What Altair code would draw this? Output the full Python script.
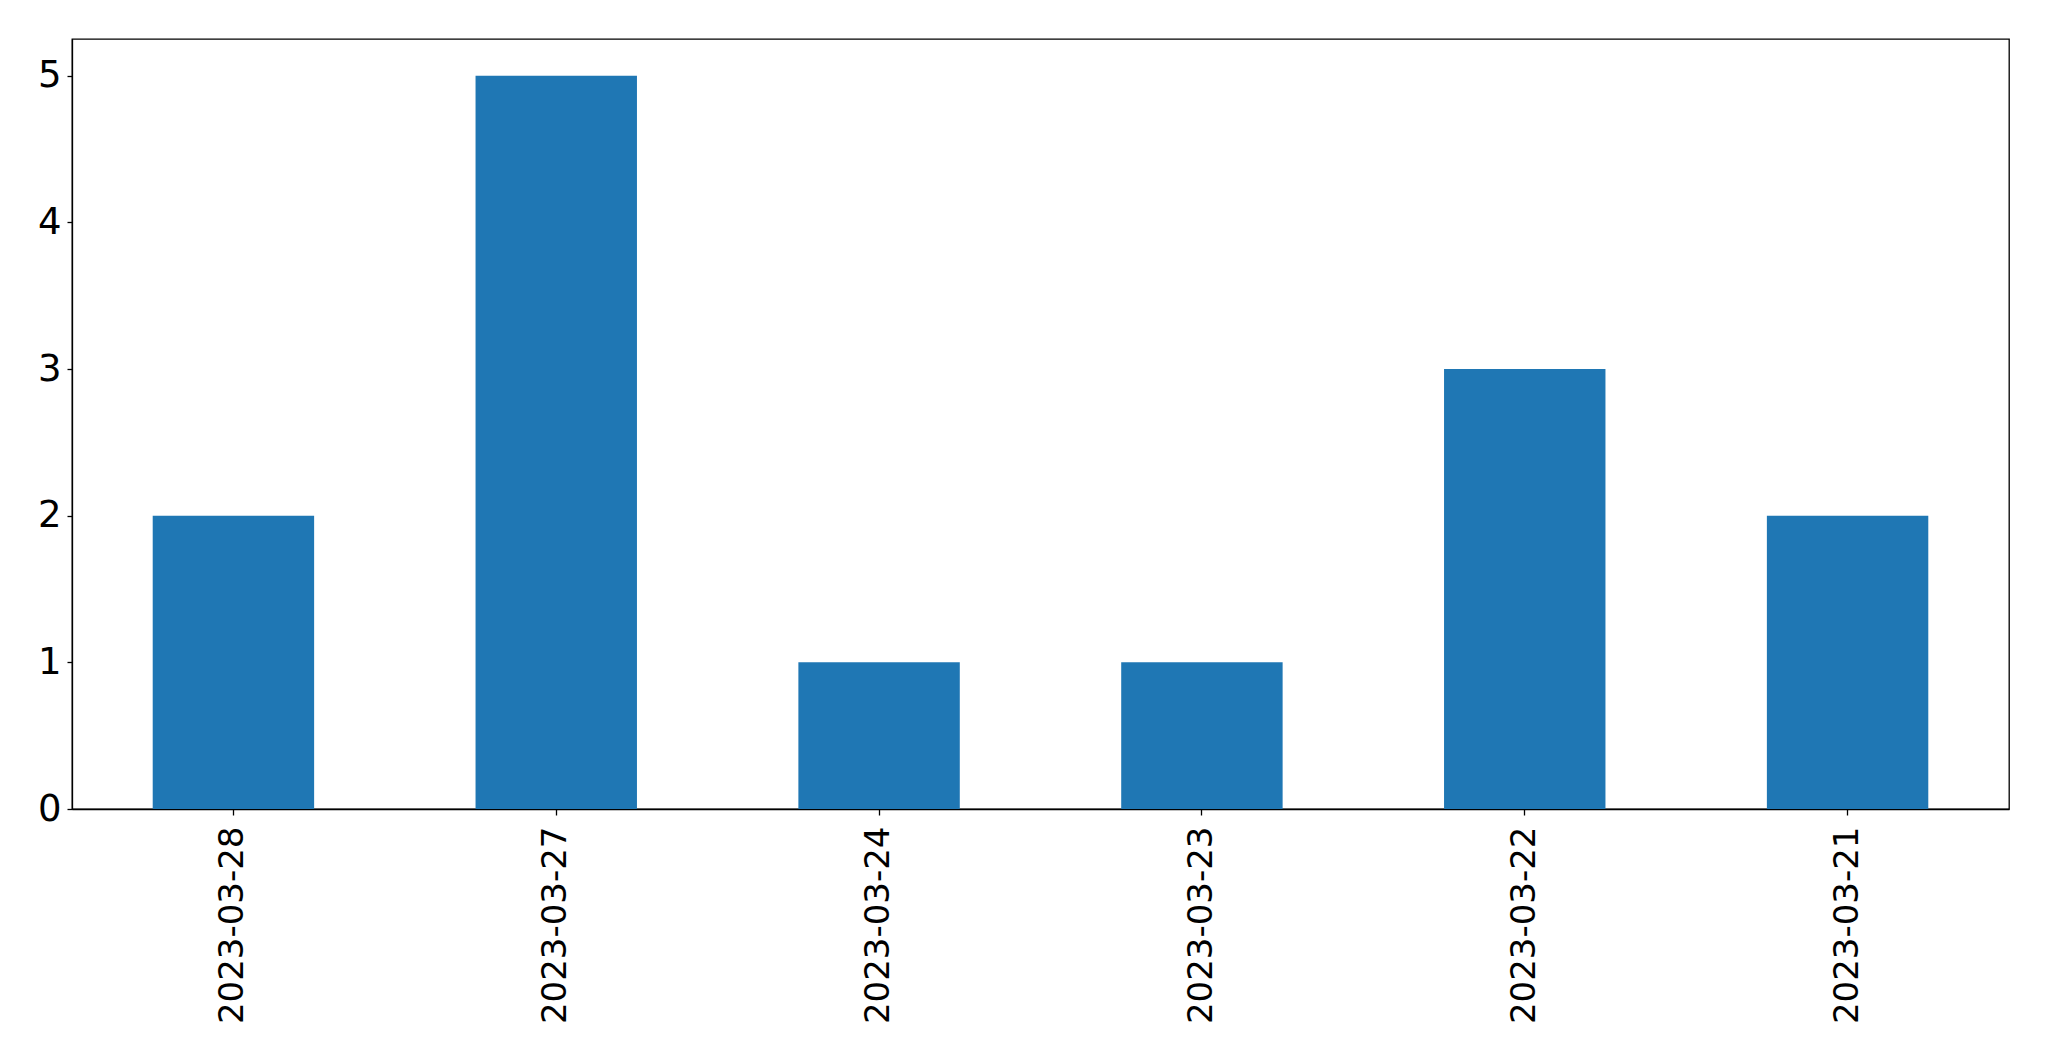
import altair as alt
import pandas as pd

dates = ["2023-03-28", "2023-03-27", "2023-03-24", "2023-03-23", "2023-03-22", "2023-03-21"]
counts = [2, 5, 1, 1, 3, 2]

df = pd.DataFrame({"date": dates, "count": counts})

chart = alt.Chart(df).mark_bar(color="#1f77b4").encode(
    x=alt.X("date:N", sort=dates, title=None,
            scale=alt.Scale(paddingInner=0.5, paddingOuter=0.25),
            axis=alt.Axis(labelAngle=270, labelFontSize=34, labelFont="DejaVu Sans",
                          labelColor="black", tickColor="black", domainColor="black",
                          tickSize=6, labelPadding=11, grid=False, labelLimit=0)),
    y=alt.Y("count:Q", title=None,
            scale=alt.Scale(domain=[0, 5.25], nice=False),
            axis=alt.Axis(values=[0, 1, 2, 3, 4, 5], labelFontSize=37, labelFont="DejaVu Sans",
                          labelColor="black", tickColor="black", domainColor="black",
                          tickSize=5, labelPadding=6, grid=False, format="d")),
).properties(
    width=1937, height=770,
    autosize=alt.AutoSizeParams(type="none"),
    padding={"left": 64, "top": 31, "right": 24, "bottom": 230},
).configure_view(stroke="black", strokeWidth=1.3).configure_axis(domainWidth=1.3, tickWidth=1.3)

chart.save("out.html", embed_options={"renderer": "svg", "actions": False})
